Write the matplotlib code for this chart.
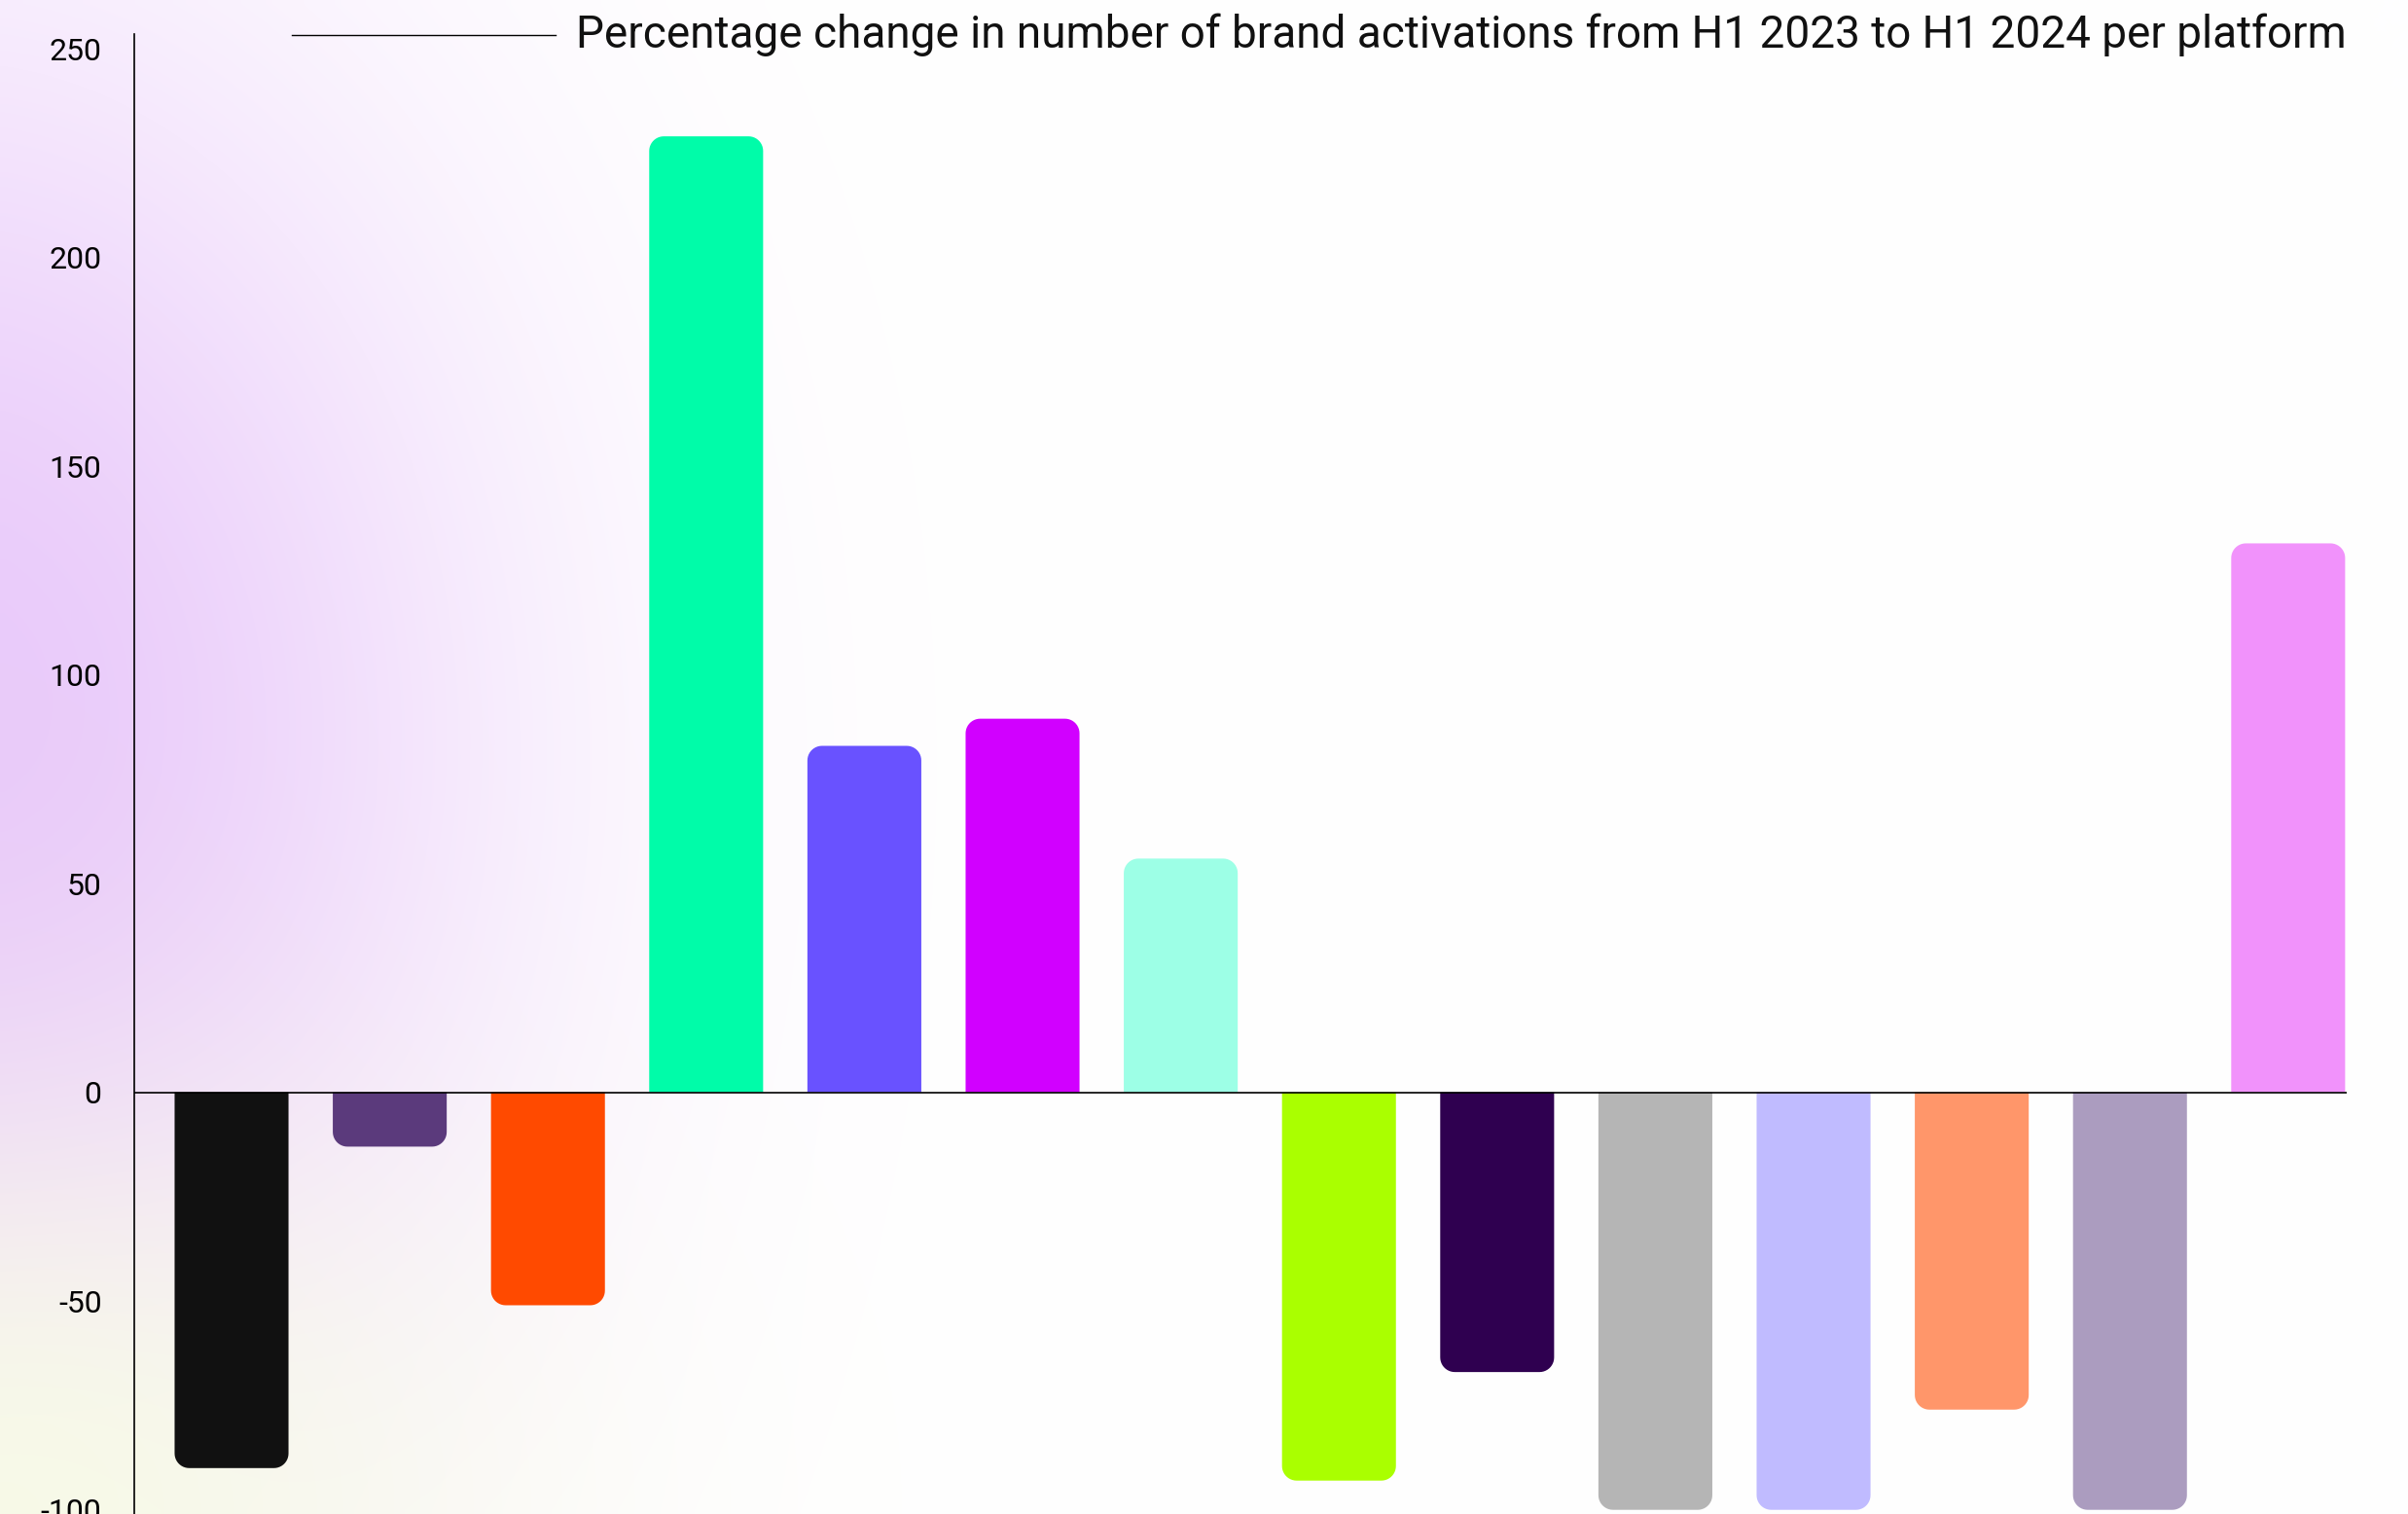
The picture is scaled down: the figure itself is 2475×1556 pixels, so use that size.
import numpy as np
import matplotlib.pyplot as plt
from matplotlib.patches import Polygon
from matplotlib.lines import Line2D

# percentage change per platform, H1 2023 -> H1 2024
platforms = list(range(14))
pct_change = [-90, -13, -51, 229, 83, 89.5, 56, -93, -67, -100, -100, -76, -100, 131.5]
bar_colors = ["#111111", "#5b3a7c", "#ff4a00", "#00fca9", "#6952ff", "#d100ff", "#9dffe6",
              "#aaff00", "#2f0050", "#b5b5b5", "#c0bbff", "#ff966a", "#ab9cbf", "#f192fb"]
y_ticks = [-100, -50, 0, 50, 100, 150, 200, 250]
title = "Percentage change in number of brand activations from H1 2023 to H1 2024 per platform"

W, H = 2475, 1556
plt.rcParams["font.family"] = ["Roboto", "DejaVu Sans"]
fig = plt.figure(figsize=(W / 100, H / 100), dpi=100)

# soft lavender glow on the left, pale yellow at the bottom-left corner
bg = fig.add_axes([0, 0, 1, 1], zorder=0)
bg.axis("off")
yy, xx = np.mgrid[0:H:8, 0:W:8].astype(float)
d1 = ((xx + 60) / 560) ** 2 + ((yy - 780) / 760) ** 2
w1 = 0.95 * np.exp(-d1 ** 1.15)
d2 = (xx / 520) ** 2 + ((yy - H) / 420) ** 2
w2 = 0.9 * np.exp(-d2)
lav = np.array([0.91, 0.78, 0.98])
yel = np.array([0.97, 0.985, 0.90])
img = np.ones(xx.shape + (3,))
img = img * (1 - w1[..., None]) + lav * w1[..., None]
img = img * (1 - w2[..., None]) + yel * w2[..., None]
bg.imshow(img, extent=[0, 1, 0, 1], aspect="auto", interpolation="bilinear")
bg.set_xlim(0, 1)
bg.set_ylim(0, 1)

left, right, top = 138 / W, 2412 / W, 1 - 35 / H
ax = fig.add_axes([left, 0, right - left, top], zorder=1)
ax.patch.set_alpha(0)
xlo, xhi = -0.615, 13.37
ylo, yhi = -101, 253.5
ax.set_xlim(xlo, xhi)
ax.set_ylim(ylo, yhi)

bw = 0.72
px_x = (right - left) * W / (xhi - xlo)
px_y = top * H / (yhi - ylo)
rx = 15 / px_x   # corner radius in x units
ry = 15 / px_y   # same radius in y units


def bar_outline(x0, w, v, n=12):
    # bar with rounded corners only at the far end from zero
    s = 1 if v > 0 else -1
    cy = v - s * ry
    t1 = np.linspace(np.pi, np.pi - s * np.pi / 2, n)
    t2 = np.linspace(s * np.pi / 2, 0, n)
    left_arc = np.column_stack([x0 + rx + rx * np.cos(t1), cy + ry * np.sin(t1)])
    right_arc = np.column_stack([x0 + w - rx + rx * np.cos(t2), cy + ry * np.sin(t2)])
    return np.vstack([[x0, 0], left_arc, right_arc, [x0 + w, 0]])


for i, v in enumerate(pct_change):
    ax.add_patch(Polygon(bar_outline(platforms[i] - bw / 2, bw, v), closed=True,
                         fc=bar_colors[i], ec="none"))

ax.axhline(0, color="black", lw=1.2, zorder=5)
for s in ["top", "right", "bottom"]:
    ax.spines[s].set_visible(False)
ax.spines["left"].set_linewidth(1.2)
ax.set_xticks([])
ax.set_yticks(y_ticks)
ax.set_yticklabels([str(t) for t in y_ticks])
ax.tick_params(axis="y", length=0, pad=24, labelsize=23, colors="black")

ty = 1 - 36 / H
fig.text(right, ty, title, ha="right", va="center", fontsize=33, color="#111111")
fig.add_artist(Line2D([300 / W, 571 / W], [ty, ty], color="black", lw=1.0))

fig.savefig("out.png", dpi=100)
